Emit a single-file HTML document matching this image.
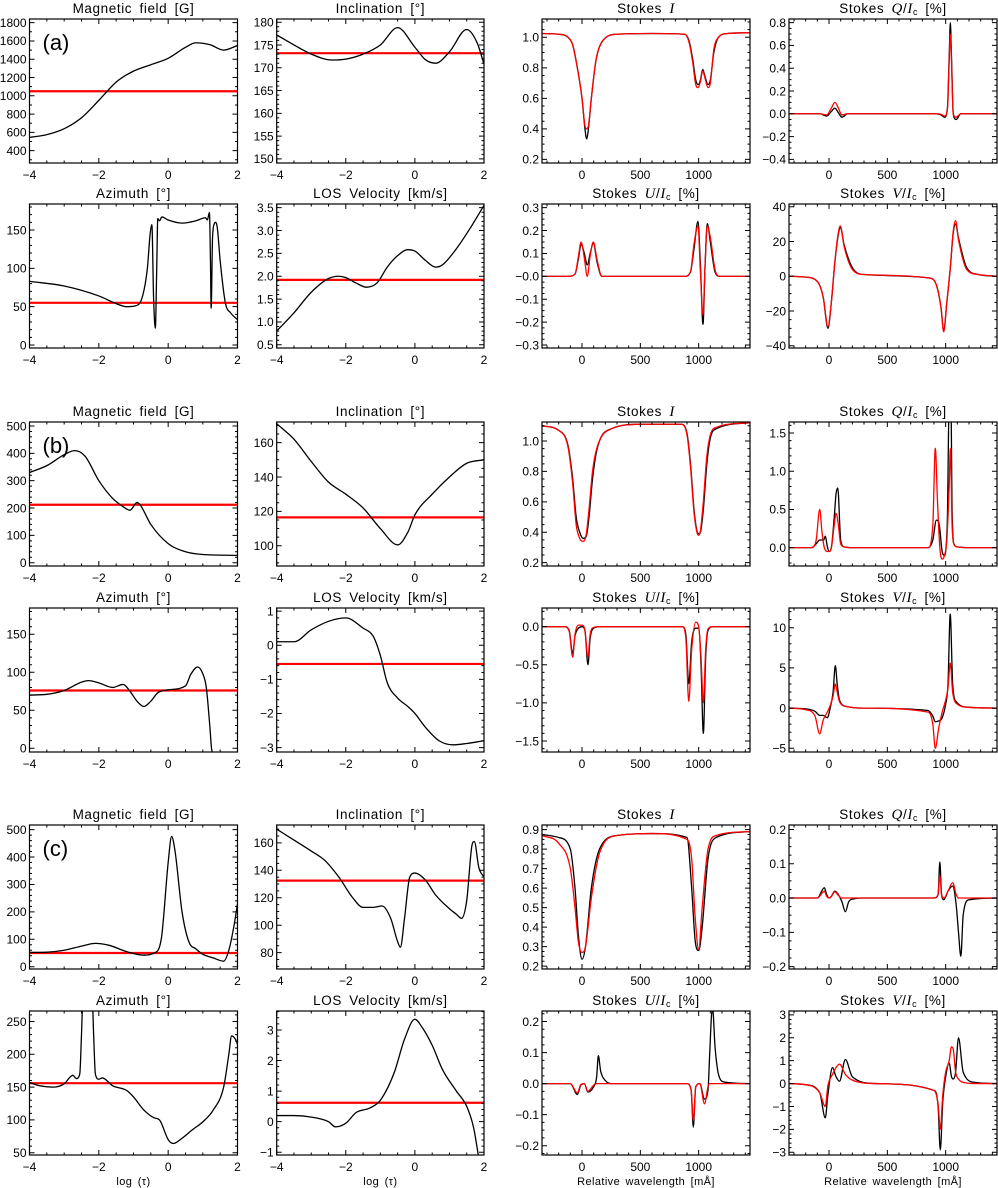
<!DOCTYPE html>
<html><head><meta charset="utf-8"><style>
html,body{margin:0;padding:0;background:#fff;}
svg{display:block;font-family:"Liberation Sans",sans-serif;}
</style></head><body>
<svg id="fig" width="998" height="1188" viewBox="0 0 998 1188" xmlns="http://www.w3.org/2000/svg"></svg>
<script>
// ---------- group (a) ----------
const aB_x=[-4,-3.5,-3,-2.5,-2,-1.5,-1,-0.5,0,0.5,0.8,1.2,1.6,2];
const aB_y=[545,575,640,760,950,1150,1270,1340,1410,1530,1580,1560,1500,1550];
const aB_fit=1050;
const aInc_x=[-4,-3.5,-3,-2.4,-2,-1.5,-1,-0.5,0,0.3,0.6,1,1.5,1.8,2];
const aInc_y=[177.2,175,173,171.7,171.9,173,175,178.8,174.5,171.8,171,173.5,178.4,175.5,170.8];
const aInc_fit=173.2;
const aAz_x=[-4,-3,-2,-1.5,-1.2,-0.95,-0.75,-0.6,-0.52,-0.47,-0.42,-0.37,-0.33,-0.3,-0.25,-0.18,0,0.4,0.8,1.08,1.13,1.19,1.22,1.24,1.28,1.33,1.37,1.42,1.5,1.65,1.8,2];
const aAz_y=[83,77,64,54,50,51,62,100,145,157,60,22,100,165,162,167,163,159,162,166,163,173,110,48,140,158,160,152,110,55,42,33];
const aAz_fit=55;
const aLos_x=[-4,-3.5,-3,-2.5,-2.2,-2,-1.7,-1.4,-1.1,-0.8,-0.5,-0.2,0,0.3,0.6,0.8,1.2,1.6,2];
const aLos_y=[0.8,1.2,1.65,1.95,2.0,1.97,1.85,1.76,1.85,2.2,2.45,2.58,2.55,2.35,2.2,2.25,2.6,3.05,3.55];
const aLos_fit=1.92;
const aI_x=[-343,-200,-120,-80,-40,0,25,40,55,80,120,180,300,600,880,920,950,975,995,1015,1035,1055,1080,1100,1130,1170,1250,1440];
const aI_obs=[1.025,1.02,1.0,0.95,0.8,0.6,0.4,0.335,0.4,0.6,0.85,0.98,1.02,1.025,1.02,0.97,0.85,0.72,0.69,0.72,0.79,0.74,0.69,0.72,0.9,1.0,1.025,1.03];
const aI_fit=[1.025,1.02,1.0,0.95,0.8,0.6,0.42,0.40,0.42,0.6,0.85,0.98,1.02,1.025,1.02,0.96,0.83,0.69,0.67,0.71,0.78,0.73,0.67,0.70,0.92,1.0,1.025,1.03];
const aQ_x=[-343,-80,-20,20,50,80,110,160,900,960,990,1015,1030,1040,1050,1065,1090,1130,1440];
const aQ_obs=[0,0,-0.02,0.02,0.05,0.01,-0.03,0,0,-0.01,-0.03,0.05,0.5,0.8,0.5,0,-0.05,0,0];
const aQ_fit=[0,0,-0.01,0.05,0.1,0.05,-0.01,0,0,-0.005,-0.02,0.04,0.45,0.7,0.45,0,-0.03,0,0];
const aU_x=[-343,-120,-60,-30,-8,20,45,70,97,130,170,880,930,960,994,1015,1037,1055,1074,1100,1140,1180,1440];
const aU_obs=[0,0,0.01,0.08,0.14,0.1,0.05,0.1,0.145,0.06,0,0,0.02,0.12,0.24,0.05,-0.21,0.05,0.23,0.15,0.02,0,0];
const aU_fit=[0,0,0.01,0.09,0.15,0.08,0.0,0.09,0.15,0.07,0,0,0.02,0.14,0.22,0.02,-0.17,0.05,0.22,0.17,0.03,0,0];
const aV_x=[-343,-200,-100,-50,-9,20,50,75,97,130,200,300,860,920,960,983,1010,1040,1065,1085,1110,1180,1280,1440];
const aV_obs=[0,-0.5,-3,-12,-30,-15,8,22,28,18,5,1,-1,-5,-18,-31,-15,5,25,30,22,5,1,0];
const aV_fit=[0,-0.5,-3,-12,-29,-15,8,23,29,17,4,1,-1,-5,-18,-32,-15,5,26,32,21,4,1,0];
// ---------- group (b) ----------
const bB_x=[-4,-3.5,-3,-2.7,-2.4,-2,-1.6,-1.3,-1.1,-0.9,-0.8,-0.5,0,0.5,1,2];
const bB_y=[330,355,395,410,390,300,235,205,192,220,210,140,70,40,30,27];
const bB_fit=212;
const bInc_x=[-4,-3.5,-3,-2.5,-2,-1.5,-1,-0.5,-0.2,0,0.5,1,1.5,2];
const bInc_y=[171,162,149,137,130,122,110,100.5,108,118,130,140,148,150];
const bInc_fit=116.5;
const bAz_x=[-4,-3.5,-3,-2.5,-2.3,-2,-1.6,-1.3,-1.1,-0.9,-0.7,-0.5,-0.3,0,0.5,0.65,0.85,1,1.1,1.2,1.25,1.27];
const bAz_y=[70,71,76,87,89,86,80,84,75,62,55,62,73,77,82,97,107,98,80,30,0,-5];
const bAz_fit=76;
const bLos_x=[-4,-3.5,-3,-2.5,-2,-1.5,-1.2,-1,-0.8,-0.5,-0.2,0,0.3,0.7,1.1,1.5,2];
const bLos_y=[0.1,0.1,0.45,0.7,0.8,0.5,0.25,-0.3,-1.1,-1.55,-1.8,-2.0,-2.4,-2.8,-2.92,-2.88,-2.8];
const bLos_fit=-0.55;
const bI_x=[-343,-200,-120,-80,-50,-20,10,35,60,90,130,250,500,850,900,930,960,985,1000,1015,1040,1070,1100,1150,1440];
const bI_obs=[1.1,1.07,0.97,0.75,0.5,0.4,0.36,0.37,0.5,0.75,0.95,1.08,1.11,1.11,1.05,0.85,0.55,0.41,0.39,0.4,0.55,0.85,1.02,1.08,1.12];
const bI_fit=[1.1,1.07,0.96,0.72,0.45,0.36,0.34,0.38,0.55,0.8,0.96,1.08,1.11,1.11,1.04,0.83,0.53,0.40,0.38,0.41,0.6,0.9,1.04,1.09,1.12];
const bQ_xo=[-343,-150,-110,-80,-45,-32,-15,0,20,45,60,75,100,130,200,850,890,920,945,970,990,1000,1015,1030,1045,1055,1070,1100,1200,1440];
const bQ_obs=[0,0,0.05,0.1,0.1,0.15,0.02,-0.05,0,0.4,0.7,0.78,0.1,0.01,0,0,0.1,0.36,0.3,-0.05,-0.1,-0.05,0.4,1.9,1.9,0.5,0.05,0.01,0,0];
const bQ_xf=[-343,-150,-110,-80,-60,-40,-10,0,20,45,60,80,100,130,200,850,890,911,930,950,970,990,1010,1030,1040,1055,1070,1100,1200,1440];
const bQ_fit=[0,0,0.1,0.5,0.2,0.0,-0.05,-0.05,0,0.3,0.45,0.3,0.05,0.01,0,0,0.3,1.3,0.6,0.0,-0.15,-0.1,0.1,0.8,1.3,0.3,0.05,0.01,0,0];
const bU_x=[-343,-150,-110,-80,-60,-30,0,25,51,70,100,150,860,890,915,940,975,1000,1020,1040,1060,1080,1120,1440];
const bU_obs=[0,0,-0.05,-0.35,-0.12,-0.02,0,-0.05,-0.5,-0.15,-0.02,0,0,-0.1,-0.75,-0.2,-0.02,-0.02,-0.5,-1.4,-0.4,-0.05,0,0];
const bU_fit=[0,0,-0.06,-0.4,-0.1,0.02,0.02,-0.05,-0.4,-0.1,-0.01,0,0,-0.15,-0.98,-0.3,0.06,0.0,-0.4,-1.0,-0.3,-0.03,0,0];
const bV_x=[-343,-200,-120,-80,-50,-15,10,35,54,70,90,150,300,850,890,911,940,970,1000,1020,1039,1060,1090,1200,1440];
const bV_obs=[0,-0.1,-0.4,-0.9,-0.9,-1.2,0,2,5.3,3,1,0.2,0,-0.3,-1,-1.7,-1.6,-1.2,0.5,3,11.7,3,0.8,0.1,0];
const bV_fit=[0,-0.2,-1,-3.2,-1.5,-0.5,0.3,1.5,3,2,0.8,0.2,0,-0.5,-2,-5,-2.5,-0.5,1,2.5,5.6,2,0.6,0.1,0];
// ---------- group (c) ----------
const cB_x=[-4,-3.5,-3,-2.5,-2.1,-1.7,-1.2,-0.7,-0.4,-0.2,0,0.1,0.2,0.4,0.6,0.8,1,1.3,1.6,1.75,1.9,2];
const cB_y=[52,53,60,75,85,78,55,42,50,100,380,475,420,200,90,65,45,32,20,60,150,230];
const cB_fit=50;
const cInc_x=[-4,-3.5,-3,-2.6,-2.2,-1.8,-1.5,-1.2,-0.95,-0.7,-0.5,-0.42,-0.3,-0.15,0,0.3,0.6,1,1.2,1.35,1.5,1.65,1.72,1.85,2];
const cInc_y=[170,162,154,147,135,120,113,113,114,105,88,84,105,135,138,133,122,112,108,105,118,158,161,142,135];
const cInc_fit=132.5;
const cAz_x=[-4,-3.7,-3.3,-3,-2.75,-2.65,-2.55,-2.5,-2.45,-2.2,-2.15,-2.1,-2.0,-1.9,-1.6,-1.2,-1,-0.7,-0.4,-0.25,0,0.15,0.4,0.7,1,1.3,1.6,1.75,1.83,1.95,2];
const cAz_y=[157,152,150,155,168,163,170,230,300,300,230,170,162,164,152,145,135,115,103,100,70,64,72,85,97,115,150,200,228,222,215];
const cAz_fit=156;
const cLos_x=[-4,-3.5,-3,-2.5,-2.3,-2,-1.7,-1.3,-1,-0.6,-0.3,0,0.2,0.5,0.8,1.2,1.5,1.7,1.85];
const cLos_y=[0.2,0.2,0.15,0.0,-0.17,-0.05,0.3,0.45,0.7,1.6,2.7,3.35,3.1,2.5,1.7,1.0,0.5,-0.2,-1.2];
const cLos_fit=0.62;
const cI_x=[-343,-200,-100,-60,-30,0,30,80,150,300,600,900,940,970,1000,1030,1080,1150,1440];
const cI_obs=[0.875,0.86,0.8,0.6,0.35,0.235,0.3,0.6,0.8,0.87,0.88,0.86,0.6,0.33,0.28,0.4,0.75,0.86,0.89];
const cI_fit=[0.87,0.83,0.7,0.5,0.32,0.27,0.3,0.55,0.78,0.87,0.88,0.85,0.75,0.45,0.285,0.5,0.8,0.87,0.89];
const cQ_x=[-343,-100,-40,-20,0,20,50,80,110,140,170,220,300,900,935,950,965,985,1020,1060,1090,1110,1130,1150,1200,1440];
const cQ_obs=[0,0,0.03,0.01,0,0.005,0.02,0.01,-0.01,-0.04,-0.01,-0.002,0,0,0.01,0.105,0.01,-0.005,0.02,0.035,-0.02,-0.1,-0.17,-0.05,-0.005,0];
const cQ_fit=[0,0,0.02,0.005,0,0.005,0.018,0.008,0,0,0,0,0,0,0.01,0.065,0.01,0,0.02,0.045,0.01,0,0,0,0,0];
const cU_x=[-343,-100,-40,-10,20,50,100,125,140,160,200,250,900,935,954,975,1010,1050,1080,1095,1110,1120,1140,1170,1220,1440];
const cU_obs=[0,0,-0.035,-0.005,0,-0.027,-0.01,0.02,0.09,0.04,0.01,0,0,-0.02,-0.14,-0.01,0,-0.05,-0.02,0.1,0.22,0.24,0.12,0.03,0.005,0];
const cU_fit=[0,0,-0.03,-0.003,0,-0.025,-0.005,0,0,0,0,0,0,-0.02,-0.12,-0.01,0,-0.065,-0.01,0,0,0,0,0,0,0];
const cV_x=[-343,-200,-80,-32,-10,30,60,90,140,200,400,900,935,954,975,1000,1030,1050,1065,1085,1110,1150,1250,1440];
const cV_obs=[0,-0.05,-0.4,-1.5,-0.5,0.7,0.3,0.1,1.05,0.3,0,-0.3,-1,-2.9,-0.8,0.3,0.9,0.3,0.2,0.5,2.0,0.5,0.05,0];
const cV_fit=[0,-0.05,-0.4,-1.0,-0.1,0.4,0.7,0.85,0.4,0.15,0,-0.3,-0.9,-2.0,-0.5,0.5,1.0,1.6,1.5,0.5,0.2,0.05,0,0];

// ---------- tick labels ----------
const tauTicks=['−4','−2','0','2'];
const wlTicks=['0','500','1000'];

const NS='http://www.w3.org/2000/svg';
const svg=document.getElementById('fig');
const COLS=[[29.5,237.5],[276.7,484],[542,750],[789,997]];
const TOPS=[19,204,422,608,825,1011];
const PH=144;
function mk(tag,attrs,parent){const e=document.createElementNS(NS,tag);for(const k in attrs)e.setAttribute(k,attrs[k]);(parent||svg).appendChild(e);return e;}
function num(s){return Number(String(s).replace('−','-'));}
function monoPath(px,py){
  const n=px.length;if(n<2)return '';
  const d=[],m=[];
  for(let i=0;i<n-1;i++){d.push((py[i+1]-py[i])/((px[i+1]-px[i])||1e-6));}
  m[0]=d[0];m[n-1]=d[n-2];
  for(let i=1;i<n-1;i++){m[i]=(d[i-1]*d[i]<=0)?0:(d[i-1]+d[i])/2;}
  for(let i=0;i<n-1;i++){if(d[i]===0){m[i]=0;m[i+1]=0;continue;}const a=m[i]/d[i],b=m[i+1]/d[i],s=a*a+b*b;if(s>9){const t=3/Math.sqrt(s);m[i]=t*a*d[i];m[i+1]=t*b*d[i];}}
  let p='M'+px[0].toFixed(2)+','+py[0].toFixed(2);
  for(let i=0;i<n-1;i++){const h=(px[i+1]-px[i])/3;p+='C'+(px[i]+h).toFixed(2)+','+(py[i]+m[i]*h).toFixed(2)+' '+(px[i+1]-h).toFixed(2)+','+(py[i+1]-m[i+1]*h).toFixed(2)+' '+px[i+1].toFixed(2)+','+py[i+1].toFixed(2);}
  return p;
}
let clipId=0;
function panel(o){
  const [x0,x1]=COLS[o.col];const y0=TOPS[o.row],y1=y0+PH;
  const sx=v=>x0+(v-o.xr[0])/(o.xr[1]-o.xr[0])*(x1-x0);
  const sy=v=>y1-(v-o.yr[0])/(o.yr[1]-o.yr[0])*(y1-y0);
  const g=mk('g',{});
  
  
  const t=mk('text',{x:(x0+x1)/2,y:y0-6,'text-anchor':'middle','font-size':13.5,fill:'#000','letter-spacing':0.6,'word-spacing':3},g);
  
  
  if(o.stokes){
    t.appendChild(document.createTextNode('Stokes '));
    const s=mk('tspan',{'font-family':'Liberation Serif,serif','font-style':'italic','font-size':15},t);s.textContent=o.stokes;
    if(o.stokes!=='I'){
      const sl=mk('tspan',{},t);sl.textContent='/';
      const s2=mk('tspan',{'font-family':'Liberation Serif,serif','font-style':'italic','font-size':15},t);s2.textContent='I';
      const sub=mk('tspan',{'font-size':9,dy:2},t);sub.textContent='c';
      const r=mk('tspan',{dy:-2},t);r.textContent=' [%]';
    }
  } else t.textContent=o.title;
  const cid='c'+(clipId++);
  const cp=mk('clipPath',{id:cid},g);mk('rect',{x:x0,y:y0,width:x1-x0,height:PH},cp);
  if(o.fit!==undefined){
    const l=mk('line',{x1:x0,x2:x1,y1:sy(o.fit),y2:sy(o.fit),stroke:'#f00','stroke-width':2.2,'clip-path':'url(#'+cid+')'},g);
    
    
  }
  o.series.forEach(s=>{
    const p=mk('path',{d:monoPath(s.x.map(sx),s.y.map(sy)),fill:'none',stroke:s.c,'stroke-width':1.3,'clip-path':'url(#'+cid+')'},g);
    
    
  });
  const fr=mk('rect',{x:x0,y:y0,width:x1-x0,height:PH,fill:'none',stroke:'#000','stroke-width':1.2},g);
  
  
  let tp='';
  const xt=o.xticks.map(num),xs=o.xminor;
  let xstart=Math.ceil(o.xr[0]/xs-1e-9)*xs;
  for(let v=xstart;v<=o.xr[1]+1e-9;v+=xs){const X=sx(v);const major=xt.some(q=>Math.abs(q-v)<1e-6);const L=major?5:2.5;tp+=`M${X},${y1}v${-L}M${X},${y0}v${L}`;}
  const yt=o.yticks.map(num),ys=o.yminor;
  let vstart=Math.ceil(o.yr[0]/ys-1e-9)*ys;
  for(let v=vstart;v<=o.yr[1]+1e-9;v+=ys){const Y=sy(v);const major=yt.some(q=>Math.abs(q-v)<1e-6);const L=major?5:2.5;tp+=`M${x0},${Y}h${L}M${x1},${Y}h${-L}`;}
  const tk=mk('path',{d:tp,stroke:'#000','stroke-width':1,fill:'none'},g);
  
  
  o.xticks.forEach(s=>{const e=mk('text',{x:sx(num(s)),y:y1+16,'text-anchor':'middle','font-size':12},g);e.textContent=s;
    
    });
  o.yticks.forEach(s=>{const e=mk('text',{x:x0-3,y:sy(num(s))+4.3,'text-anchor':'end','font-size':12},g);e.textContent=s;
    
    });
  if(o.letter){const e=mk('text',{x:x0+13,y:y0+31,'font-size':22},g);e.textContent=o.letter;
    
    }
  if(o.xlabel){const e=mk('text',{x:(x0+x1)/2,y:y1+30,'text-anchor':'middle','font-size':11,'letter-spacing':0.4,'word-spacing':2},g);e.textContent=o.xlabel;
    
    }
}
const TX=[-4,2],WX=[-343,1440];
function depth(row,col,name,title,xa,ya,fit,yr,yticks,yminor,extra){
  panel(Object.assign({row,col,name,title,xr:TX,yr,xticks:tauTicks,xminor:0.5,yticks,yminor,fit,series:[{x:xa,y:ya,c:'#000',n:'model-curve'}]},extra||{}));
}
function stokes(row,col,name,st,xo,yo,xf,yf,yr,yticks,yminor,extra){
  panel(Object.assign({row,col,name,stokes:st,xr:WX,yr,xticks:wlTicks,xminor:100,yticks,yminor,series:[{x:xo,y:yo,c:'#000',n:'observed-profile'},{x:xf,y:yf,c:'#f00',n:'fitted-profile'}]},extra||{}));
}
depth(0,0,'a-magnetic-field','Magnetic field [G]',aB_x,aB_y,aB_fit,[265,1840],['400','600','800','1000','1200','1400','1600','1800'],100,{letter:'(a)'});
depth(0,1,'a-inclination','Inclination [°]',aInc_x,aInc_y,aInc_fit,[149.1,180.7],['150','155','160','165','170','175','180'],1);
depth(1,0,'a-azimuth','Azimuth [°]',aAz_x,aAz_y,aAz_fit,[-3.9,183.9],['0','50','100','150'],10);
depth(1,1,'a-los-velocity','LOS Velocity [km/s]',aLos_x,aLos_y,aLos_fit,[0.43,3.58],['0.5','1.0','1.5','2.0','2.5','3.0','3.5'],0.1);
stokes(0,2,'a-stokes-i','I',aI_x,aI_obs,aI_x,aI_fit,[0.176,1.12],['0.2','0.4','0.6','0.8','1.0'],0.05);
stokes(0,3,'a-stokes-q','Q',aQ_x,aQ_obs,aQ_x,aQ_fit,[-0.432,0.832],['−0.4','−0.2','0.0','0.2','0.4','0.6','0.8'],0.05);
stokes(1,2,'a-stokes-u','U',aU_x,aU_obs,aU_x,aU_fit,[-0.313,0.316],['−0.3','−0.2','−0.1','−0.0','0.1','0.2','0.3'],0.025);
stokes(1,3,'a-stokes-v','V',aV_x,aV_obs,aV_x,aV_fit,[-41.3,41.6],['−40','−20','0','20','40'],5);
depth(2,0,'b-magnetic-field','Magnetic field [G]',bB_x,bB_y,bB_fit,[-12,514.6],['0','100','200','300','400','500'],20,{letter:'(b)'});
depth(2,1,'b-inclination','Inclination [°]',bInc_x,bInc_y,bInc_fit,[88.2,172],['100','120','140','160'],5);
depth(3,0,'b-azimuth','Azimuth [°]',bAz_x,bAz_y,bAz_fit,[-4.9,184.6],['0','50','100','150'],10);
depth(3,1,'b-los-velocity','LOS Velocity [km/s]',bLos_x,bLos_y,bLos_fit,[-3.13,1.09],['−3','−2','−1','0','1'],0.2);
stokes(2,2,'b-stokes-i','I',bI_x,bI_obs,bI_x,bI_fit,[0.178,1.125],['0.2','0.4','0.6','0.8','1.0'],0.05);
stokes(2,3,'b-stokes-q','Q',bQ_xo,bQ_obs,bQ_xf,bQ_fit,[-0.24,1.644],['0.0','0.5','1.0','1.5'],0.1);
stokes(3,2,'b-stokes-u','U',bU_x,bU_obs,bU_x,bU_fit,[-1.644,0.245],['−1.5','−1.0','−0.5','0.0'],0.1);
stokes(3,3,'b-stokes-v','V',bV_x,bV_obs,bV_x,bV_fit,[-5.46,12.45],['−5','0','5','10'],1);
depth(4,0,'c-magnetic-field','Magnetic field [G]',cB_x,cB_y,cB_fit,[-8.4,516.8],['0','100','200','300','400','500'],20,{letter:'(c)'});
depth(4,1,'c-inclination','Inclination [°]',cInc_x,cInc_y,cInc_fit,[68.1,173],['80','100','120','140','160'],5);
depth(5,0,'c-azimuth','Azimuth [°]',cAz_x,cAz_y,cAz_fit,[46.5,266],['50','100','150','200','250'],10,{xlabel:'log (τ)'});
depth(5,1,'c-los-velocity','LOS Velocity [km/s]',cLos_x,cLos_y,cLos_fit,[-1.09,3.62],['−1','0','1','2','3'],0.2,{xlabel:'log (τ)'});
stokes(4,2,'c-stokes-i','I',cI_x,cI_obs,cI_x,cI_fit,[0.185,0.924],['0.2','0.3','0.4','0.5','0.6','0.7','0.8','0.9'],0.025);
stokes(4,3,'c-stokes-q','Q',cQ_x,cQ_obs,cQ_x,cQ_fit,[-0.207,0.213],['−0.2','−0.1','0.0','0.1','0.2'],0.025);
stokes(5,2,'c-stokes-u','U',cU_x,cU_obs,cU_x,cU_fit,[-0.23,0.234],['−0.2','−0.1','0.0','0.1','0.2'],0.025,{xlabel:'Relative wavelength [mÅ]'});
stokes(5,3,'c-stokes-v','V',cV_x,cV_obs,cV_x,cV_fit,[-3.12,3.17],['−3','−2','−1','0','1','2','3'],0.2,{xlabel:'Relative wavelength [mÅ]'});
</script>
</body></html>
